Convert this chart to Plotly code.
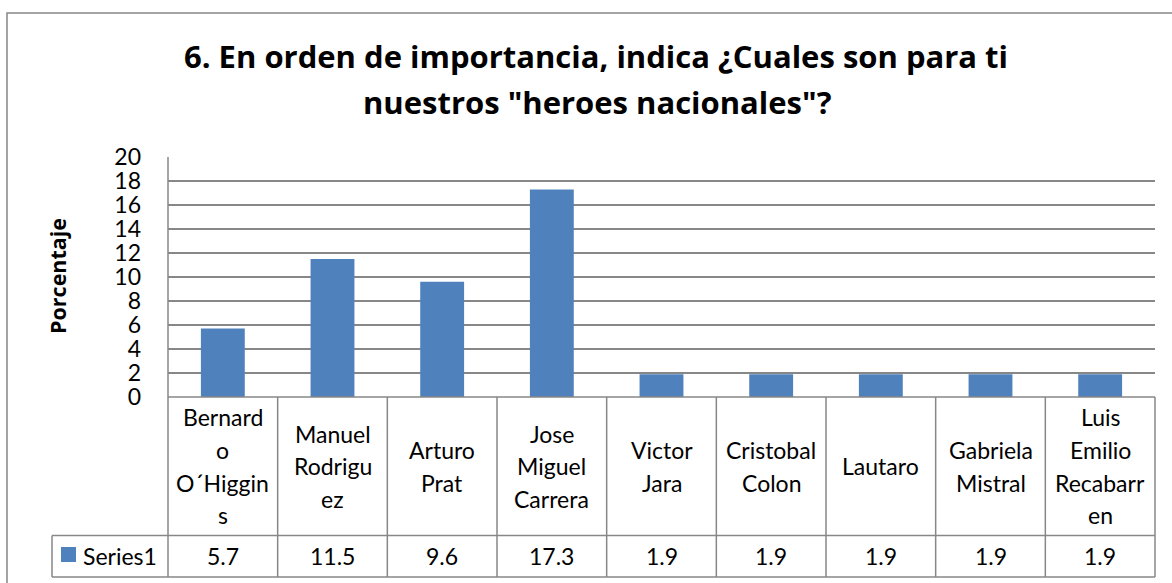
import plotly.graph_objects as go

# ---------------- data ----------------
categories = ["Bernardo O´Higgins", "Manuel Rodriguez", "Arturo Prat",
              "Jose Miguel Carrera", "Victor Jara", "Cristobal Colon",
              "Lautaro", "Gabriela Mistral", "Luis Emilio Recabarren"]
label_lines = [["Bernard", "o", "O´Higgin", "s"],
               ["Manuel", "Rodrigu", "ez"],
               ["Arturo", "Prat"],
               ["Jose", "Miguel", "Carrera"],
               ["Victor", "Jara"],
               ["Cristobal", "Colon"],
               ["Lautaro"],
               ["Gabriela", "Mistral"],
               ["Luis", "Emilio", "Recabarr", "en"]]
values = [5.7, 11.5, 9.6, 17.3, 1.9, 1.9, 1.9, 1.9, 1.9]
value_labels = ["5.7", "11.5", "9.6", "17.3", "1.9", "1.9", "1.9", "1.9", "1.9"]
series_name = "Series1"
y_ticks = [0, 2, 4, 6, 8, 10, 12, 14, 16, 18, 20]
title_lines = ["6. En orden de importancia, indica ¿Cuales son para ti",
               "nuestros \"heroes nacionales\"?"]
y_title = "Porcentaje"

# ---------------- layout geometry (pixels) ----------------
W, H = 1172, 583
PL, PR, PT, PB = 168, 1155, 157, 397      # plot area
ROW1_B, ROW2_B = 535.5, 577                # table row bottoms
LEG_L = 52
BAR_COLOR = "#4F81BD"
LINE_COLOR = "#878787"
FONT = "Lato, 'Open Sans', sans-serif"
BFONT = "'Open Sans', Lato, sans-serif"
n = len(categories)
cw = (PR - PL) / n


def px(x):
    return (x - PL) / (PR - PL)


def py(y):
    return (PB - y) / (PB - PT)


fig = go.Figure()
fig.add_trace(go.Bar(
    x=list(range(n)), y=values, width=0.4, marker=dict(color=BAR_COLOR, line=dict(width=0)),
    name=series_name, hoverinfo="skip", showlegend=False))

shapes = []
annotations = []


def hline(x0, x1, y):
    shapes.append(dict(type="line", xref="paper", yref="paper", x0=px(x0), x1=px(x1),
                       y0=py(y), y1=py(y), line=dict(color=LINE_COLOR, width=1.5), layer="above"))


def vline(x, y0, y1):
    shapes.append(dict(type="line", xref="paper", yref="paper", x0=px(x), x1=px(x),
                       y0=py(y0), y1=py(y1), line=dict(color=LINE_COLOR, width=1.5), layer="above"))


# outer chart border
shapes.append(dict(type="rect", xref="paper", yref="paper", x0=px(7), x1=px(1190),
                   y0=py(13), y1=py(600), line=dict(color=LINE_COLOR, width=1.5),
                   fillcolor="rgba(0,0,0,0)", layer="below"))

# data table lines
hline(PL, PR, PB)
hline(LEG_L, PR, ROW1_B)
hline(LEG_L, PR, ROW2_B)
for k in range(n + 1):
    vline(PL + k * cw, PB, ROW2_B)
vline(PL, PT, PB)
vline(LEG_L, ROW1_B, ROW2_B)

# category labels (wrapped lines)
LINE_H = 32.7
row1_mid = (PB + ROW1_B) / 2
for i, lines in enumerate(label_lines):
    cx = PL + (i + 0.5) * cw
    m = len(lines)
    for j, t in enumerate(lines):
        yy = row1_mid + (j - (m - 1) / 2) * LINE_H
        annotations.append(dict(text=t, xref="paper", yref="paper", x=px(cx), y=py(yy),
                                xanchor="center", yanchor="middle", showarrow=False,
                                font=dict(family=FONT, size=23, color="#000000")))

# values row
row2_mid = (ROW1_B + ROW2_B) / 2
for i, t in enumerate(value_labels):
    cx = PL + (i + 0.5) * cw
    annotations.append(dict(text=t, xref="paper", yref="paper", x=px(cx), y=py(row2_mid),
                            xanchor="center", yanchor="middle", showarrow=False,
                            font=dict(family=FONT, size=23, color="#000000")))

# legend key
shapes.append(dict(type="rect", xref="paper", yref="paper", x0=px(61), x1=px(76),
                   y0=py(547), y1=py(562), fillcolor=BAR_COLOR, line=dict(width=0)))
annotations.append(dict(text=series_name, xref="paper", yref="paper", x=px(81), y=py(row2_mid),
                        xanchor="left", yanchor="middle", showarrow=False,
                        font=dict(family=FONT, size=23, color="#000000")))

# title
annotations.append(dict(text="<b>" + title_lines[0] + "</b>", xref="paper", yref="paper",
                        x=px(596), y=py(56), xanchor="center", yanchor="middle", showarrow=False,
                        font=dict(family=BFONT, size=31, color="#000000")))
annotations.append(dict(text="<b>" + title_lines[1] + "</b>", xref="paper", yref="paper",
                        x=px(597), y=py(102), xanchor="center", yanchor="middle", showarrow=False,
                        font=dict(family=BFONT, size=31, color="#000000")))

# y axis title
annotations.append(dict(text="<b>" + y_title + "</b>", xref="paper", yref="paper",
                        x=px(57), y=py(276), xanchor="center", yanchor="middle", showarrow=False,
                        textangle=-90, font=dict(family=BFONT, size=21.5, color="#000000")))

fig.update_layout(
    width=W, height=H,
    margin=dict(l=PL, r=W - PR, t=PT, b=H - PB, pad=0),
    paper_bgcolor="white", plot_bgcolor="white",
    showlegend=False,
    shapes=shapes, annotations=annotations,
    xaxis=dict(range=[-0.5, n - 0.5], showticklabels=False, showgrid=False, zeroline=False,
               ticks="", fixedrange=True),
    yaxis=dict(range=[0, 20], tickvals=y_ticks, ticktext=[str(v) for v in y_ticks],
               showgrid=True, gridcolor=LINE_COLOR, gridwidth=1.5, zeroline=False,
               ticks="", ticklabelstandoff=26, fixedrange=True,
               tickfont=dict(family=FONT, size=23, color="#000000")),
    font=dict(family=FONT),
)

fig.write_html("out.html", config={"displayModeBar": False},
               post_script="document.body.style.margin='0';document.body.style.overflow='hidden';")
